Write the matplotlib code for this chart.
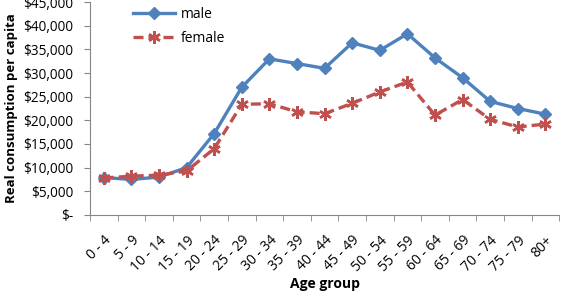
import matplotlib
matplotlib.use("Agg")
import matplotlib.pyplot as plt
from matplotlib.ticker import FuncFormatter, FixedLocator

categories = ["0 - 4", "5 - 9", "10 - 14", "15 - 19", "20 - 24", "25 - 29", "30 - 34",
              "35 - 39", "40 - 44", "45 - 49", "50 - 54", "55 - 59", "60 - 64",
              "65 - 69", "70 - 74", "75 - 79", "80+"]
male = [7900, 7500, 8000, 10000, 17200, 27000, 33000, 32000, 31000, 36400, 34800,
        38300, 33200, 29000, 24000, 22500, 21300]
female = [7800, 8200, 8400, 9300, 14000, 23400, 23500, 21800, 21400, 23600, 26000,
          28100, 21100, 24400, 20200, 18600, 19200]

plt.rcParams['font.family'] = ['Open Sans', 'DejaVu Sans']

fig = plt.figure(figsize=(5.66, 3.01), dpi=100)
ax = fig.add_axes([0.159, 0.286, 0.829, 0.707])

x = list(range(len(categories)))
ax.plot(x, male, color='#4F81BD', lw=2.4, marker='D', ms=6, label='male')
ax.plot(x, female, color='#C0504D', lw=2.4, ls=(0, (3, 1.5)), marker=(6, 2, 0), ms=9,
        mew=1.8, mec='#C0504D', label='female')

ax.set_xlim(-0.5, len(categories) - 0.5)
ax.set_ylim(0, 45000)
ax.set_yticks(range(0, 45001, 5000))
ax.yaxis.set_major_formatter(FuncFormatter(lambda v, p: "$-" if v == 0 else "${:,.0f}".format(v)))

ax.set_xticks(x)
ax.set_xticklabels(categories, rotation=45, ha='right', rotation_mode='anchor', fontsize=10)
ax.tick_params(axis='x', length=0, pad=13)
ax.xaxis.set_minor_locator(FixedLocator([i - 0.5 for i in range(len(categories) + 1)]))
ax.tick_params(axis='x', which='minor', length=4, color='#868686', direction='out')
ax.tick_params(axis='y', length=4, color='#868686', labelsize=9.8, direction='out', pad=8)

for s in ['top', 'right']:
    ax.spines[s].set_visible(False)
for s in ['left', 'bottom']:
    ax.spines[s].set_color('#868686')

ax.set_ylabel('Real consumption per capita', fontsize=9.5, fontweight='bold', labelpad=4)
ax.set_xlabel('Age group', fontsize=10, fontweight='bold', labelpad=2)

ax.legend(loc='upper left', bbox_to_anchor=(0.066, 1.035), frameon=False, fontsize=10,
          handlelength=3, handletextpad=0.4, labelspacing=0.65)

fig.savefig('out.png', dpi=100)
